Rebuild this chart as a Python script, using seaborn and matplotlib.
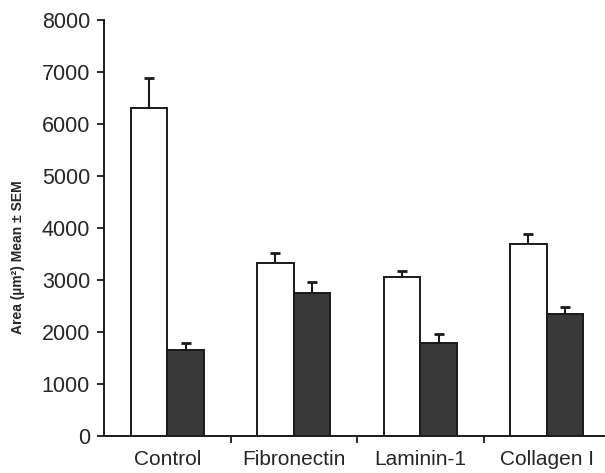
import numpy as np
import pandas as pd
import matplotlib
matplotlib.use('Agg')
import matplotlib.pyplot as plt
import seaborn as sns

# values
categories = ['Control', 'Fibronectin', 'Laminin-1', 'Collagen I']
groups = ['white', 'dark']
white_mean = [6300, 3320, 3050, 3685]
white_sem = [580, 190, 130, 190]
dark_mean = [1655, 2755, 1795, 2340]
dark_sem = [130, 205, 165, 135]
yticks = [0, 1000, 2000, 3000, 4000, 5000, 6000, 7000, 8000]

df = pd.DataFrame({
    'cat': categories * 2,
    'grp': [groups[0]] * 4 + [groups[1]] * 4,
    'mean': white_mean + dark_mean,
    'sem': white_sem + dark_sem,
})

sns.set_style('white')
plt.rcParams['font.family'] = ['Liberation Sans', 'DejaVu Sans']

fig = plt.figure(figsize=(6.05, 4.73), dpi=100)
ax = fig.add_axes([104 / 605, 37 / 473, 506 / 605, 416 / 473])

sns.barplot(data=df, x='cat', y='mean', hue='grp', order=categories,
            hue_order=groups, palette={'white': 'white', 'dark': '#393939'},
            width=0.58, gap=0, errorbar=None, legend=False, ax=ax,
            edgecolor='#1a1a1a', linewidth=1.4, zorder=2)

# upper-only SEM bars, drawn behind the bars so the lower cap is hidden
for bars, grp in zip(ax.containers, groups):
    sub = df[df['grp'] == grp].set_index('cat').loc[categories]
    xs = [p.get_x() + p.get_width() / 2 for p in bars.patches]
    ax.errorbar(xs, sub['mean'], yerr=[np.zeros(len(xs)), sub['sem']],
                fmt='none', ecolor='#1a1a1a', elinewidth=1.5, capsize=3.5,
                capthick=2.0, zorder=1)

ax.set_xlim(-0.5, 3.5)
ax.set_ylim(0, 8000)
ax.set_yticks(yticks)
ax.set_yticklabels([str(t) for t in yticks], fontsize=15.5)
ax.set_xticks(range(len(categories)))
ax.set_xticklabels(categories, fontsize=15)
ax.set_xticks([0.5, 1.5, 2.5], minor=True)
ax.tick_params(axis='x', which='major', length=0, pad=10)
ax.tick_params(axis='x', which='minor', length=5, width=1.3, color='#1a1a1a',
               direction='out', bottom=True)
ax.tick_params(axis='y', length=5, width=1.3, color='#1a1a1a', direction='out',
               left=True, pad=5)
ax.set_xlabel('')
ax.set_ylabel('Area (µm²) Mean ± SEM', fontsize=10, fontweight='bold')
ax.yaxis.set_label_coords(-0.156, 0.43)

sns.despine(ax=ax)
for s in ['left', 'bottom']:
    ax.spines[s].set_color('#1a1a1a')
    ax.spines[s].set_linewidth(1.4)
    ax.spines[s].set_zorder(3)

fig.savefig('out.png', dpi=100)
